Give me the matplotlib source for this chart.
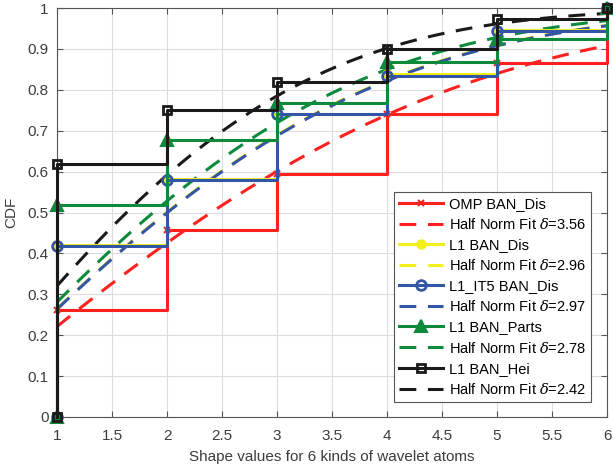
import math
import matplotlib
matplotlib.use('Agg')
import matplotlib.pyplot as plt
import numpy as np

plt.rcParams['font.family'] = ['Liberation Sans', 'DejaVu Sans']
plt.rcParams['mathtext.fontset'] = 'dejavuserif'

# empirical CDF steps for each method at shape values 1..6
shape = [1, 2, 3, 4, 5, 6]
omp_dis = [0.262, 0.457, 0.594, 0.740, 0.865, 1.0]
l1_dis = [0.421, 0.581, 0.742, 0.838, 0.947, 1.0]
l1it5_dis = [0.419, 0.579, 0.740, 0.834, 0.944, 1.0]
l1_parts = [0.519, 0.678, 0.767, 0.869, 0.923, 1.0]
l1_hei = [0.619, 0.751, 0.820, 0.900, 0.973, 1.0]

# half normal fit parameters
deltas = [3.56, 2.96, 2.97, 2.78, 2.42]

names = ['OMP BAN_Dis', 'L1 BAN_Dis', 'L1_IT5 BAN_Dis', 'L1 BAN_Parts', 'L1 BAN_Hei']
colors = ['#ff2020', '#f2ef1a', '#3355a5', '#0d8a3c', '#1a1a1a']
markers = ['x', 'o', 'o', '^', 's']
mfaces = ['#ff2020', '#f2ef1a', 'none', '#0d8a3c', 'none']
msizes = [5, 6, 7, 8, 6]

series = [omp_dis, l1_dis, l1it5_dis, l1_parts, l1_hei]

fig = plt.figure(figsize=(6.13, 4.72), dpi=100)
ax = fig.add_axes([57/613, 1 - 417/472, 550/613, 409/472])

xs = np.linspace(1, 6, 200)
for vals, d, name, c, m, mf, ms in zip(series, deltas, names, colors, markers, mfaces, msizes):
    x = [shape[0]] + shape
    y = [0.0] + vals
    ax.step(x, y, where='post', color=c, lw=2.2, marker=m, mfc=mf, mec=c,
            mew=2 if mf == 'none' else 1.5, ms=ms, clip_on=False, label=name, zorder=3)
    fit = [math.erf(v / (d * math.sqrt(2))) for v in xs]
    ax.plot(xs, fit, color=c, lw=2.2, dashes=(5.5, 3.8),
            label=r'Half Norm Fit $\delta$=%.2f' % d, zorder=2)

ax.set_xlim(1, 6)
ax.set_ylim(0, 1)
ax.set_xticks(np.arange(1, 6.01, 0.5))
ax.set_xticklabels(['1', '1.5', '2', '2.5', '3', '3.5', '4', '4.5', '5', '5.5', '6'])
ax.set_yticks(np.arange(0, 1.01, 0.1))
ax.set_yticklabels(['0', '0.1', '0.2', '0.3', '0.4', '0.5', '0.6', '0.7', '0.8', '0.9', '1'])
ax.grid(True, color='#dcdcdc', lw=0.8)
ax.set_axisbelow(True)
ax.tick_params(direction='in', length=4, top=True, right=True, labelsize=11,
               colors='#555555', labelcolor='#3c3c3c')
ax.tick_params(axis='x', pad=9)
ax.tick_params(axis='y', pad=6)
for s in ax.spines.values():
    s.set_color('#555555')
    s.set_linewidth(0.8)

ax.set_xlabel('Shape values for 6 kinds of wavelet atoms', fontsize=11, color='#3c3c3c', labelpad=5)
ax.set_ylabel('CDF', fontsize=11, color='#3c3c3c', labelpad=7)

leg = ax.legend(loc='lower right', bbox_to_anchor=(0.971, 0.037), borderaxespad=0,
                fontsize=10.5, handlelength=3.0, labelspacing=0.42, handletextpad=0.4,
                fancybox=False, framealpha=1, edgecolor='#555555', borderpad=0.35)
leg.get_frame().set_linewidth(0.8)

fig.savefig('out.png', dpi=100)
